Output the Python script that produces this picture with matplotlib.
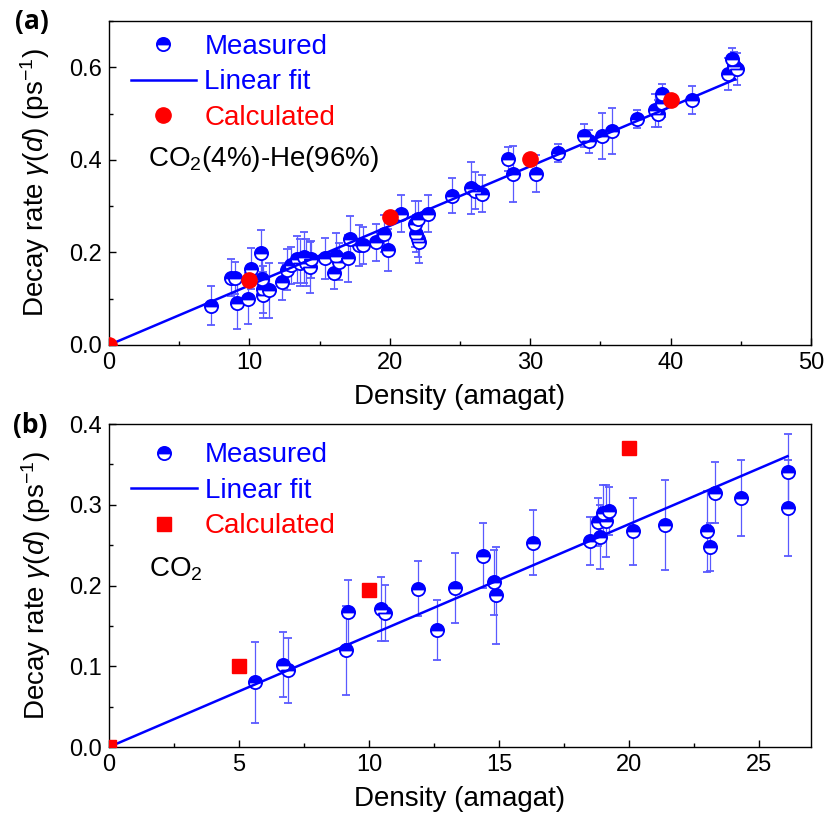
import matplotlib
matplotlib.use("Agg")
import matplotlib.pyplot as plt
from matplotlib.lines import Line2D
from matplotlib.ticker import MultipleLocator

plt.rcParams["font.family"] = ["Liberation Sans", "DejaVu Sans"]
plt.rcParams["mathtext.fontset"] = "custom"
plt.rcParams["mathtext.rm"] = "Liberation Sans"
plt.rcParams["mathtext.it"] = "Liberation Sans:italic"

# ----------------------- data: panel (a) CO2(4%)-He(96%) -----------------------
a_x = [7.3, 8.7, 9.0, 9.1, 9.9, 10.1, 10.8, 10.9, 11.0, 11.0, 11.4, 12.3, 12.7,
       13.0, 13.4, 13.6, 13.9, 14.0, 14.3, 14.4, 15.4, 16.0, 16.2, 16.4, 17.0,
       17.2, 17.8, 18.1, 19.0, 19.6, 19.9, 20.8, 21.8, 22.0, 21.9, 22.0, 22.1,
       22.7, 24.4, 25.8, 26.1, 26.6, 28.4, 28.8, 30.4, 32.0, 33.8, 34.2, 35.1,
       35.8, 37.6, 38.9, 39.1, 39.4, 39.4, 41.5, 44.1, 44.4, 44.5, 44.7]
a_y = [0.085, 0.145, 0.145, 0.090, 0.100, 0.165, 0.198, 0.142, 0.120, 0.108,
       0.118, 0.137, 0.163, 0.172, 0.185, 0.178, 0.190, 0.178, 0.168, 0.185,
       0.187, 0.155, 0.193, 0.180, 0.187, 0.228, 0.215, 0.215, 0.222, 0.240,
       0.205, 0.284, 0.262, 0.272, 0.240, 0.230, 0.222, 0.284, 0.323, 0.340,
       0.333, 0.327, 0.402, 0.370, 0.370, 0.415, 0.452, 0.440, 0.452, 0.462,
       0.488, 0.507, 0.500, 0.542, 0.523, 0.529, 0.585, 0.617, 0.603, 0.596]
a_err = [0.042, 0.040, 0.035, 0.055, 0.055, 0.045, 0.050, 0.045, 0.050, 0.050,
         0.060, 0.040, 0.045, 0.040, 0.050, 0.050, 0.055, 0.050, 0.055, 0.040,
         0.045, 0.035, 0.050, 0.040, 0.050, 0.050, 0.045, 0.040, 0.040, 0.040,
         0.045, 0.040, 0.050, 0.040, 0.040, 0.040, 0.045, 0.040, 0.038, 0.056,
         0.040, 0.040, 0.025, 0.060, 0.040, 0.020, 0.025, 0.025, 0.050, 0.050,
         0.020, 0.035, 0.030, 0.022, 0.030, 0.030, 0.035, 0.025, 0.030, 0.035]
a_calc_x = [0, 10, 20, 30, 40]
a_calc_y = [0.0, 0.140, 0.277, 0.402, 0.529]
a_fit_x = [0, 44.6]
a_fit_slope = 0.01287

# ----------------------- data: panel (b) CO2 -----------------------
b_x = [5.6, 6.7, 6.9, 9.1, 9.2, 10.45, 10.6, 11.9, 12.6, 13.3, 14.4, 14.8, 14.9,
       16.3, 18.5, 18.8, 18.9, 19.0, 19.1, 19.25, 20.15, 21.4, 23.0, 23.1, 23.3,
       24.3, 26.1, 26.1]
b_y = [0.080, 0.102, 0.095, 0.120, 0.167, 0.171, 0.166, 0.196, 0.145, 0.197,
       0.237, 0.204, 0.188, 0.253, 0.255, 0.279, 0.260, 0.290, 0.280, 0.292,
       0.267, 0.275, 0.267, 0.248, 0.315, 0.308, 0.340, 0.296]
b_err = [0.050, 0.040, 0.040, 0.055, 0.040, 0.040, 0.035, 0.034, 0.037, 0.043,
         0.040, 0.040, 0.060, 0.040, 0.030, 0.030, 0.040, 0.035, 0.045, 0.030,
         0.041, 0.056, 0.050, 0.030, 0.038, 0.047, 0.048, 0.060]
b_calc_x = [0, 5, 10, 20]
b_calc_y = [0.0, 0.100, 0.194, 0.370]
b_fit_x = [0, 26.1]
b_fit_slope = 0.0138

BLUE = "#0000ff"
ERR = "#5a5aff"
RED = "#ff0000"


def style_axes(ax, xmax, xmaj, xmin, ymax, ymaj, ymin):
    ax.set_xlim(0, xmax)
    ax.set_ylim(0, ymax)
    ax.xaxis.set_major_locator(MultipleLocator(xmaj))
    ax.xaxis.set_minor_locator(MultipleLocator(xmin))
    ax.yaxis.set_major_locator(MultipleLocator(ymaj))
    ax.yaxis.set_minor_locator(MultipleLocator(ymin))
    ax.tick_params(which="both", direction="in", top=False, right=False,
                   width=1.0, labelsize=17)
    ax.tick_params(which="major", length=5, pad=5)
    ax.tick_params(which="minor", length=3)
    for s in ax.spines.values():
        s.set_linewidth(1.0)
    ax.set_xlabel("Density (amagat)", fontsize=20, labelpad=7)
    ax.set_ylabel(r"Decay rate $\gamma$($d$) (ps$^{-1}$)", fontsize=20, labelpad=12)


def draw_panel(ax, x, y, err, fit_x, slope, cx, cy, calc_marker, calc_ms):
    ax.errorbar(x, y, yerr=err, fmt="o", ms=9.5, mew=1.3, mec=BLUE,
                mfc=BLUE, mfcalt="white", fillstyle="top",
                ecolor=ERR, elinewidth=0.9, capsize=3, capthick=0.9, zorder=2)
    ax.plot(fit_x, [slope * v for v in fit_x], color=BLUE, lw=1.8, zorder=3)
    ax.plot(cx, cy, ls="none", marker=calc_marker, ms=calc_ms, color=RED,
            mec=RED, zorder=4)


def add_legend(ax, calc_marker, calc_ms, anchor):
    handles = [
        Line2D([], [], ls="none", marker="o", ms=9.5, mew=1.3, mec=BLUE,
               mfc=BLUE, mfcalt="white", fillstyle="top"),
        Line2D([], [], color=BLUE, lw=1.8),
        Line2D([], [], ls="none", marker=calc_marker, ms=calc_ms, color=RED),
    ]
    ax.legend(handles, ["Measured", "Linear fit", "Calculated"], loc="upper left",
              bbox_to_anchor=anchor, frameon=False, fontsize=20,
              labelcolor=[BLUE, BLUE, RED], handlelength=2.35,
              handletextpad=0.3, labelspacing=0.34, borderpad=0,
              borderaxespad=0)


fig = plt.figure(figsize=(8.28, 8.15), dpi=100)
ax_a = fig.add_axes([0.1316, 0.5767, 0.8478, 0.3975])
ax_b = fig.add_axes([0.1316, 0.0834, 0.8478, 0.3963])

# panel (a)
draw_panel(ax_a, a_x, a_y, a_err, a_fit_x, a_fit_slope, a_calc_x, a_calc_y, "o", 11)
style_axes(ax_a, 50, 10, 5, 0.7, 0.2, 0.1)
add_legend(ax_a, "o", 11, (0.031, 0.96))
ax_a.text(0.055, 0.575, r"CO$_2$(4%)-He(96%)", transform=ax_a.transAxes,
          fontsize=20, ha="left", va="center")

# panel (b)
draw_panel(ax_b, b_x, b_y, b_err, b_fit_x, b_fit_slope, b_calc_x, b_calc_y, "s", 10)
style_axes(ax_b, 27, 5, 2.5, 0.4, 0.1, 0.05)
add_legend(ax_b, "s", 10, (0.032, 0.943))
ax_b.text(0.057, 0.55, r"CO$_2$", transform=ax_b.transAxes,
          fontsize=20, ha="left", va="center")

# panel tags
fig.text(32 / 828, 1 - 22 / 815, "(a)", fontsize=19, fontweight="bold",
         family=["Open Sans", "DejaVu Sans"], ha="center", va="center")
fig.text(30 / 828, 1 - 426 / 815, "(b)", fontsize=19, fontweight="bold",
         family=["Open Sans", "DejaVu Sans"], ha="center", va="center")

fig.savefig("out.png", dpi=100)
